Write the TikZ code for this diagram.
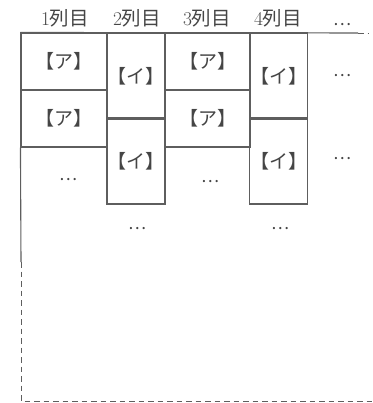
\documentclass[tikz,border=0pt]{standalone}
\usepackage{fontspec}
\newfontfamily\jpfont{Noto Sans CJK JP}
\definecolor{linegray}{HTML}{5E5E5E}
\definecolor{textgray}{HTML}{454545}
\tikzset{
  rule/.style={draw=linegray, line width=1.1pt},
  dashrule/.style={rule, line width=0.9pt, dash pattern=on 5.5pt off 4pt},
  cell/.style={rule, inner sep=0pt, text=textgray, font=\jpfont\fontsize{19}{19}\selectfont},
  widecell/.style={cell, minimum width=86pt, minimum height=57pt},
  tallcell/.style={cell, minimum width=58pt, minimum height=86pt},
  head/.style={inner sep=0pt, text=textgray, font=\fontsize{19.5}{19.5}\selectfont},
  dots/.style={inner sep=0pt, text=textgray, font=\jpfont\fontsize{17}{17}\selectfont}
}
\begin{document}
\begin{tikzpicture}[x=1pt,y=-1pt]
\useasboundingbox (0,0) rectangle (372,403);

% headers
\node[head] (h1) at (65,18) {1\jpfont 列目};
\node[head] (h2) at (137,18) {2\jpfont 列目};
\node[head] (h3) at (207,18) {3\jpfont 列目};
\node[head] (h4) at (278,18) {4\jpfont 列目};
\node[dots] (hdots) at (342,25) {…};

% columns 1 and 3
\node[widecell] (c1a) at (64,61.5) {【ア】};
\node[widecell] (c1b) at (64,118.5) {【ア】};
\node[widecell] (c3a) at (207.5,61.5) {【ア】};
\node[widecell] (c3b) at (207.5,118.5) {【ア】};

% columns 2 and 4
\node[tallcell] (c2a) at (136,76) {【イ】};
\node[tallcell] (c2b) at (136,161) {【イ】};
\node[tallcell] (c4a) at (278.5,76) {【イ】};
\node[tallcell] (c4b) at (278.5,161) {【イ】};

% continuation dots
\node[dots] (d1) at (68,180) {…};
\node[dots] (d3) at (210,182) {…};
\node[dots] (d2) at (137,229) {…};
\node[dots] (d4) at (280,229) {…};
\node[dots] (r1) at (342,76) {…};
\node[dots] (r2) at (342,159) {…};

% outer frame
\coordinate (topend) at (358,33);
\coordinate (topdash) at (368,33);
\coordinate (leftend) at (21,262);
\coordinate (corner) at (21,401);
\coordinate (bottomend) at (372,401);
\draw[rule] (c1a.north west) -- (topend);
\draw[dashrule] (topend) -- (topdash);
\draw[rule] (c1b.south west) -- (leftend);
\draw[dashrule] (leftend) -- (corner) -- (bottomend);
\end{tikzpicture}
\end{document}
